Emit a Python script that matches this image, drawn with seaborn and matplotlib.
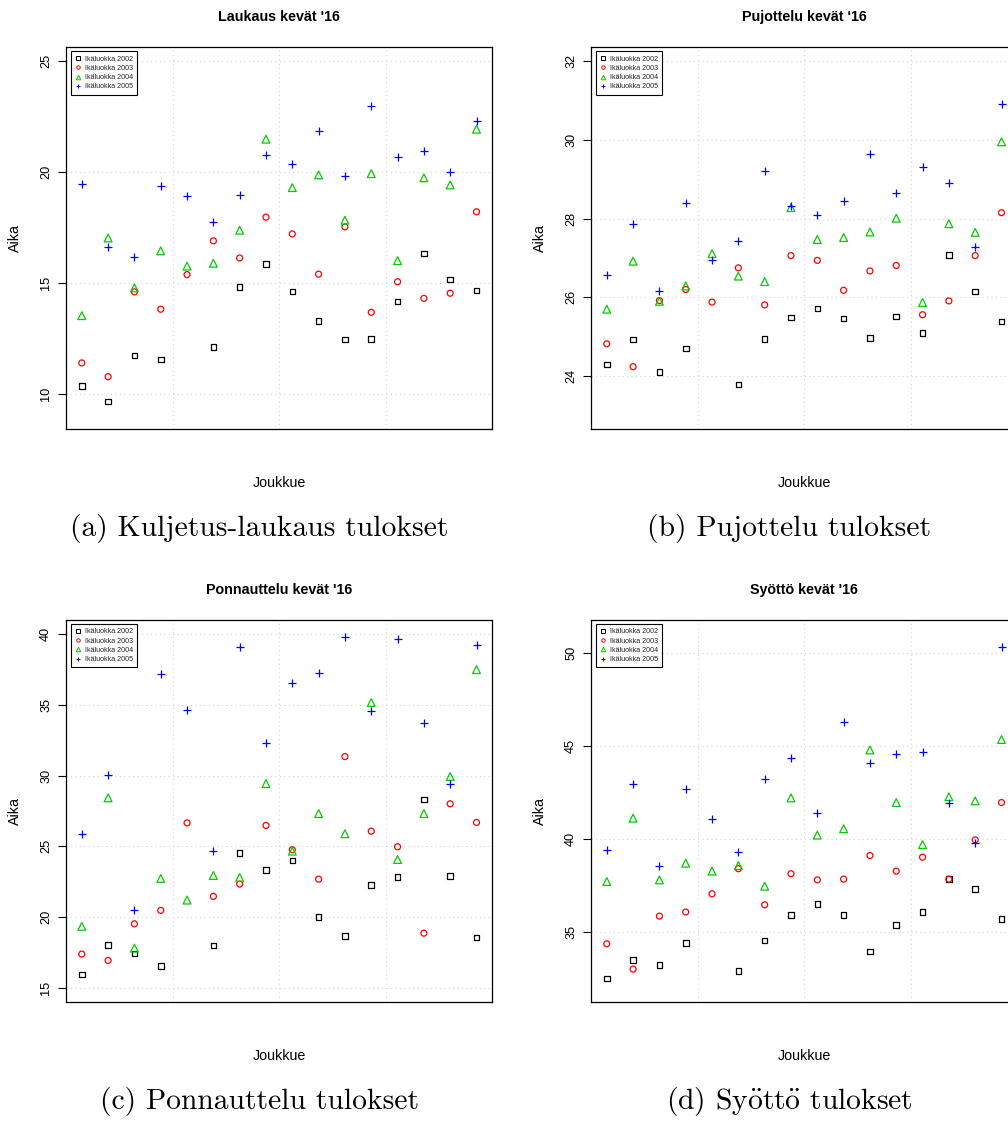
import numpy as np
import pandas as pd
import matplotlib
matplotlib.use("Agg")
import matplotlib.pyplot as plt
import seaborn as sns
from matplotlib.lines import Line2D

# ---------------- data ----------------
teams = list(range(1, 17))
series_labels = ["Ikäluokka 2002", "Ikäluokka 2003", "Ikäluokka 2004", "Ikäluokka 2005"]
nan = np.nan

laukaus_2002 = [10.35, 9.67, 11.74, 11.55, nan, 12.13, 14.81, 15.85, 14.61, 13.28, 12.45, 12.49, 14.16, 16.33, 15.15, 14.67]
laukaus_2003 = [11.40, 10.78, 14.60, 13.82, 15.38, 16.90, 16.13, 17.97, 17.21, 15.40, 17.53, 13.68, 15.06, 14.31, 14.54, 18.21]
laukaus_2004 = [13.53, 17.03, 14.78, 16.45, 15.76, 15.89, 17.38, 21.48, 19.30, 19.87, 17.83, 19.93, 16.01, 19.74, 19.42, 21.93]
laukaus_2005 = [19.45, 16.61, 16.16, 19.35, 18.90, 17.76, 18.97, 20.79, 20.37, 21.83, 19.81, 22.97, 20.69, 20.96, 20.01, 22.29]

pujottelu_2002 = [24.30, 24.93, 24.11, 24.70, nan, 23.79, 24.94, 25.49, 25.72, 25.46, 24.97, 25.51, 25.10, 27.07, 26.15, 25.39]
pujottelu_2003 = [24.82, 24.24, 25.92, 26.20, 25.88, 26.75, 25.81, 27.06, 26.94, 26.18, 26.67, 26.81, 25.56, 25.91, 27.06, 28.15]
pujottelu_2004 = [25.70, 26.92, 25.90, 26.29, 27.11, 26.54, 26.40, 28.28, 27.47, 27.52, 27.66, 28.01, 25.87, 27.87, 27.65, 29.95]
pujottelu_2005 = [26.58, 27.87, 26.17, 28.40, 26.94, 27.44, 29.20, 28.31, 28.10, 28.45, 29.64, 28.66, 29.32, 28.90, 27.28, 30.92]

ponnauttelu_2002 = [15.92, 18.02, 17.43, 16.53, nan, 17.99, 24.52, 23.34, 24.00, 20.00, 18.65, 22.26, 22.82, 28.31, 22.89, 18.56]
ponnauttelu_2003 = [17.38, 16.93, 19.52, 20.47, 26.66, 21.46, 22.33, 26.48, 24.76, 22.68, 31.35, 26.07, 24.97, 18.86, 28.01, 26.69]
ponnauttelu_2004 = [19.34, 28.43, 17.80, 22.73, 21.20, 22.94, 22.80, 29.44, 24.66, 27.32, 25.89, 35.17, 24.07, 27.32, 29.94, 37.50]
ponnauttelu_2005 = [25.86, 30.06, 20.49, 37.22, 34.65, 24.66, 39.13, 32.34, 36.58, 37.29, 39.84, 34.56, 39.69, 33.73, 29.42, 39.22]

syotto_2002 = [32.51, 33.51, 33.23, 34.41, nan, 32.92, 34.55, 35.91, 36.52, 35.93, 33.96, 35.38, 36.09, 37.87, 37.31, 35.70]
syotto_2003 = [34.37, 33.01, 35.86, 36.08, 37.06, 38.41, 36.47, 38.14, 37.81, 37.85, 39.12, 38.28, 39.03, 37.85, 39.96, 41.97]
syotto_2004 = [37.72, 41.13, 37.81, 38.71, 38.28, 38.58, 37.47, 42.22, 40.22, 40.56, 44.80, 41.97, 39.71, 42.28, 42.06, 45.36]
syotto_2005 = [39.43, 42.96, 38.53, 42.72, 41.09, 39.32, 43.21, 44.39, 41.40, 46.31, 44.10, 44.59, 44.71, 41.92, 39.77, 50.32]

titles = ["Laukaus kevät '16", "Pujottelu kevät '16", "Ponnauttelu kevät '16", "Syöttö kevät '16"]
captions = ["(a) Kuljetus-laukaus tulokset", "(b) Pujottelu tulokset",
            "(c) Ponnauttelu tulokset",
            r"(d) Sy$\ddot{\mathrm{o}}$tt$\ddot{\mathrm{o}}$ tulokset"]
y_ticks = [[10, 15, 20, 25], [24, 26, 28, 30, 32], [15, 20, 25, 30, 35, 40], [35, 40, 45, 50]]
y_limits = [(8.41, 25.62), (22.65, 32.35), (13.99, 41.01), (31.24, 51.79)]

panels = [
    [laukaus_2002, laukaus_2003, laukaus_2004, laukaus_2005],
    [pujottelu_2002, pujottelu_2003, pujottelu_2004, pujottelu_2005],
    [ponnauttelu_2002, ponnauttelu_2003, ponnauttelu_2004, ponnauttelu_2005],
    [syotto_2002, syotto_2003, syotto_2004, syotto_2005],
]

# ---------------- style ----------------
colors = ["#000000", "#FF0000", "#00CD00", "#0000FF"]
markers = ["s", "o", "^", "+"]
msizes = [4.0, 4.3, 5.6, 6.0]          # marker size in points
lw_mark = 0.9

sns.set_theme(style="white")
plt.rcParams["font.family"] = ["Liberation Sans", "DejaVu Sans"]
plt.rcParams["mathtext.fontset"] = "cm"

W, H = 1008, 1129
fig = plt.figure(figsize=(W / 100, H / 100), dpi=100)

ax_w, ax_h = 426.3, 382.0
lefts = [66, 591, 66, 591]
tops = [47.3, 47.3, 620.0, 620.0]
cap_x = [259, 789, 259, 789]
cap_base = [536, 536, 1108.7, 1108.7]

for i in range(4):
    left, top = lefts[i], tops[i]
    ax = fig.add_axes([left / W, 1 - (top + ax_h) / H, ax_w / W, ax_h / H])
    ax.set_facecolor("white")

    rows = []
    for lab, vals in zip(series_labels, panels[i]):
        for t, v in zip(teams, vals):
            rows.append({"Joukkue": t, "Aika": v, "Ikäluokka": lab})
    df = pd.DataFrame(rows)

    for k, lab in enumerate(series_labels):
        sub = df[df["Ikäluokka"] == lab].dropna()
        if markers[k] == "+":
            sns.scatterplot(data=sub, x="Joukkue", y="Aika", ax=ax,
                            marker="+", s=msizes[k] ** 2, color=colors[k],
                            linewidth=lw_mark, legend=False, zorder=3)
        else:
            sns.scatterplot(data=sub, x="Joukkue", y="Aika", ax=ax,
                            marker=markers[k], s=msizes[k] ** 2,
                            facecolor="none", edgecolor=colors[k],
                            linewidth=lw_mark, legend=False, zorder=3)

    # axis ranges (R style 4% padding on x)
    xr = max(teams) - min(teams)
    xlim = (min(teams) - 0.04 * xr, max(teams) + 0.04 * xr)
    ax.set_xlim(*xlim)
    ax.set_ylim(*y_limits[i])

    # grid: y at ticks, x at quarter divisions
    ax.set_xticks([])
    ax.set_xticks(list(np.linspace(xlim[0], xlim[1], 5)[1:-1]), minor=True)
    ax.set_yticks(y_ticks[i])
    ax.grid(True, which="major", axis="y", color="#D3D3D3", linestyle=(0, (1, 3)), linewidth=0.8)
    ax.grid(True, which="minor", axis="x", color="#D3D3D3", linestyle=(0, (1, 3)), linewidth=0.8)
    ax.tick_params(axis="x", which="both", length=0, labelbottom=False)
    ax.tick_params(axis="y", which="major", left=True, length=6, width=0.8,
                   color="black", labelsize=9.2, pad=4.0, labelrotation=90,
                   labelcolor="black")
    for lbl in ax.get_yticklabels():
        lbl.set_va("center")
    for sp in ax.spines.values():
        sp.set_color("black")
        sp.set_linewidth(0.9)
        sp.set_visible(True)

    ax.set_title(titles[i], fontsize=10.3, fontweight="bold", pad=0,
                 y=1 + 30.3 / ax_h, va="center", color="black")
    ax.set_xlabel("Joukkue", fontsize=10.3, color="black")
    ax.xaxis.set_label_coords(0.5, -54 / ax_h)
    ax.xaxis.label.set_va("center")
    ax.set_ylabel("Aika", fontsize=10.3, color="black")
    ax.yaxis.set_label_coords(-51 / ax_w, 0.5)
    ax.yaxis.label.set_va("center")

    handles = [Line2D([], [], linestyle="none", marker=markers[k],
                      markerfacecolor="none", markeredgecolor=colors[k],
                      markersize=msizes[k] * 0.58, markeredgewidth=0.7)
               for k in range(4)]
    leg = ax.legend(handles, series_labels, loc="upper left",
                    bbox_to_anchor=(4.5 / ax_w, 1 - 4.0 / ax_h), borderaxespad=0,
                    fontsize=5.1, frameon=True, fancybox=False, framealpha=1,
                    edgecolor="black", handlelength=0.9, handletextpad=0.55,
                    borderpad=0.6, labelspacing=0.32)
    leg.get_frame().set_linewidth(0.8)
    for txt in leg.get_texts():
        txt.set_color("#222222")
    leg.set_zorder(5)

    fig.text(cap_x[i] / W, 1 - cap_base[i] / H, captions[i],
             family=["cmr10", "DejaVu Serif"], fontsize=21.3,
             ha="center", va="baseline", color="black")

fig.savefig("out.png", dpi=100)
